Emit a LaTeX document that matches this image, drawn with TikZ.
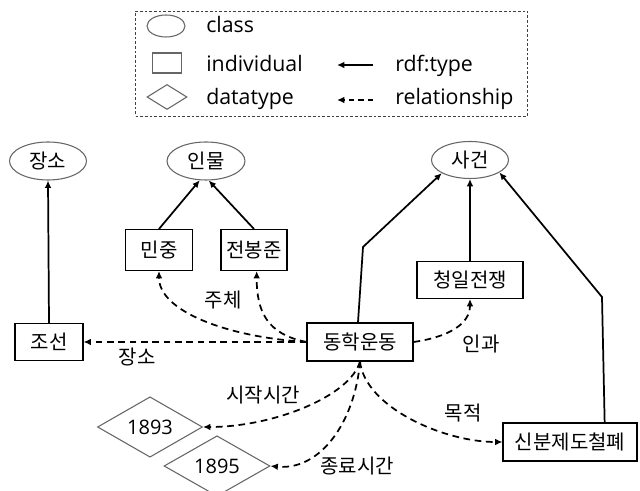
\documentclass[tikz,border=0pt]{standalone}
\usepackage{fontspec}
\setmainfont{Open Sans}
\newfontfamily\kr{Noto Sans CJK KR}
\usetikzlibrary{arrows.meta,shapes.geometric}
\begin{document}
\begin{tikzpicture}[x=0.75pt,y=-0.75pt,
  krf/.style={font=\kr\fontsize{15}{18}\selectfont},
  cls/.style={ellipse,draw=black!60,line width=0.8pt,inner sep=0pt,krf},
  ind/.style={rectangle,draw=black,line width=0.8pt,inner sep=0pt,krf},
  dat/.style={diamond,draw=black!60,line width=0.8pt,inner sep=0pt,font=\fontsize{15}{18}\selectfont},
  typ/.style={-{Latex[length=5.5pt,width=5pt]},line width=1.3pt},
  rel/.style={-{Latex[length=5.5pt,width=5pt]},line width=1.3pt,dash pattern=on 5pt off 3.5pt},
  lbl/.style={krf,inner sep=0pt},
  leg/.style={font=\fontsize{16}{19}\selectfont,inner sep=0pt,anchor=base west},
]
\path[use as bounding box] (0,0) rectangle (640,491);

% legend
\node[draw=black!75,line width=0.6pt,dash pattern=on 2pt off 1.5pt,minimum width=294pt,minimum height=78.75pt,inner sep=0pt] (legbox) at (331.5,63.5) {};
\node[ellipse,draw=black!60,line width=0.8pt,minimum width=28.5pt,minimum height=16.5pt,inner sep=0pt] (lcls) at (166,26) {};
\node[rectangle,draw=black!60,line width=0.8pt,minimum width=21.75pt,minimum height=15pt,inner sep=0pt] (lind) at (167,63) {};
\node[diamond,draw=black!60,line width=0.8pt,minimum width=30pt,minimum height=18.75pt,inner sep=0pt,aspect=1.6] (ldat) at (167,97) {};
\node[leg] (tcls) at (206,33) {class};
\node[leg] (tind) at (206,72) {individual};
\node[leg] (tdat) at (206,105) {datatype};
\node[leg] (ttyp) at (395,72) {rdf:type};
\node[leg] (trel) at (395,105) {relationship};
\coordinate (a1s) at (373,65); \coordinate (a1e) at (337,65);
\coordinate (a2s) at (373,100); \coordinate (a2e) at (337,100);
\draw[typ] (a1s) -- (a1e);
\draw[rel,dash pattern=on 4pt off 3pt] (a2s) -- (a2e);

% classes
\node[cls,minimum width=57.75pt,minimum height=28.5pt] (jangso) at (48,161) {장소};
\node[cls,minimum width=58.5pt,minimum height=28.5pt] (inmul) at (206,161) {인물};
\node[cls,minimum width=57.75pt,minimum height=27.75pt] (sageon) at (470,160) {사건};

% individuals
\node[ind,minimum width=50.25pt,minimum height=30.75pt] (minjung) at (159,250) {민중};
\node[ind,minimum width=49.5pt,minimum height=30.75pt] (jbj) at (254,250) {전봉준};
\node[ind,minimum width=51pt,minimum height=27.75pt] (joseon) at (49,342) {조선};
\node[ind,minimum width=79.5pt,minimum height=28.5pt] (donghak) at (360,342) {동학운동};
\node[ind,minimum width=79.5pt,minimum height=27.75pt] (cheongil) at (470,280) {청일전쟁};
\node[ind,minimum width=100.5pt,minimum height=28.5pt] (sinbun) at (570,442) {신분제도철폐};

% datatypes
\node[dat,minimum width=78.75pt,minimum height=36pt] (d1893) at (150,427) {1893};
\node[dat,minimum width=79.5pt,minimum height=36pt] (d1895) at (217,466) {1895};

% rdf:type
\draw[typ] (joseon.north) -- (jangso.south);
\draw[typ] (minjung.north) -- (inmul.252);
\draw[typ] (jbj.north) -- (inmul.278);
\coordinate (b1) at (363,247);
\draw[typ] ([xshift=-1.5pt]donghak.north) -- (b1) -- (sageon.205);
\draw[typ] (cheongil.north) -- (sageon.south);
\coordinate (b2) at (602,297);
\draw[typ] ([xshift=26pt]sinbun.north) -- (b2) -- (sageon.337);

% relationships
\draw[rel] (donghak.west) -- (joseon.east);
\draw[rel] (donghak.west) .. controls +(-80,-5) and +(0,40) .. (minjung.south);
\draw[rel] (donghak.west) .. controls +(-40,-8) and +(0,40) .. ([xshift=2pt]jbj.south);
\draw[rel] (donghak.east) .. controls +(35,-5) and +(0,25) .. (cheongil.south);
\draw[rel] (donghak.south) .. controls +(-10,35) and +(70,0) .. (d1893.east);
\draw[rel] (donghak.south) .. controls +(-5,60) and +(50,5) .. (d1895.east);
\draw[rel] (donghak.south) .. controls +(5,45) and +(-60,0) .. (sinbun.west);

% labels
\node[lbl] (l1) at (137,357) {장소};
\node[lbl] (l2) at (223,300) {주체};
\node[lbl] (l3) at (481,344) {인과};
\node[lbl] (l4) at (263,395) {시작시간};
\node[lbl] (l5) at (357,466) {종료시간};
\node[lbl] (l6) at (463,413) {목적};
\end{tikzpicture}
\end{document}
